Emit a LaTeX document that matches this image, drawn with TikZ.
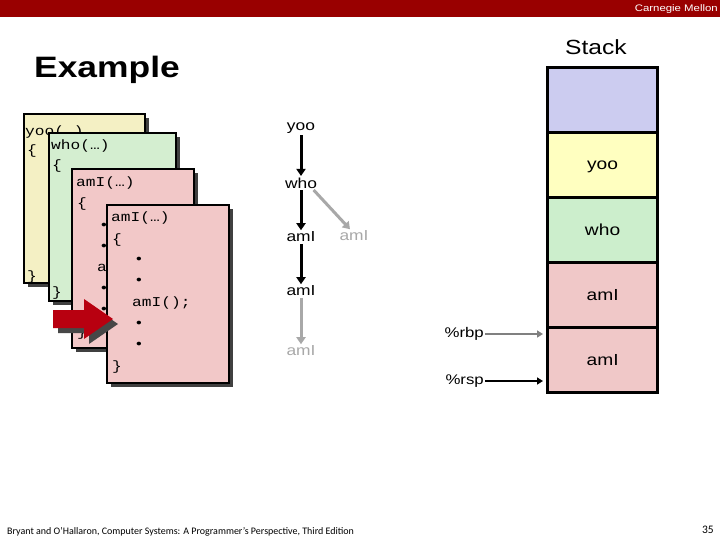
\documentclass[tikz,border=0pt]{standalone}
\usepackage{fontspec}
\setmainfont{Liberation Sans}[FakeStretch=1.2]
\newfontfamily\codefont{Liberation Mono}[FakeStretch=1.2]
\newfontfamily\footfont{Carlito}
\usetikzlibrary{arrows.meta,shadows}
\definecolor{cmured}{HTML}{990000}
\definecolor{cyoo}{HTML}{F4F0C4}
\definecolor{cwho}{HTML}{D4EED0}
\definecolor{cami}{HTML}{F2C8C8}
\definecolor{sblue}{HTML}{CCCCF0}
\definecolor{syel}{HTML}{FFFFC0}
\definecolor{sgreen}{HTML}{CCEECC}
\definecolor{spink}{HTML}{F0C8C8}
\definecolor{tgray}{HTML}{A8A8A8}
\definecolor{rgray}{HTML}{808080}
\definecolor{arrred}{HTML}{B80010}
\tikzset{
  card/.style={draw=black, line width=2.2pt, inner sep=0pt, anchor=north west,
    drop shadow={shadow xshift=4pt, shadow yshift=-4pt, fill=black!75, opacity=1}},
  code/.style={anchor=west, inner sep=0pt, font=\codefont\fontsize{13.5}{16}\selectfont},
  tree/.style={inner sep=1.5pt, font=\fontsize{14.5}{17}\selectfont},
  treegray/.style={tree, text=tgray},
  tarrow/.style={line width=3pt, -{Triangle[length=7pt,width=9pt]}},
  cell/.style={draw=black, line width=3.2pt, inner sep=0pt, anchor=north west,
    minimum width=110pt, minimum height=65pt, text depth=-3pt, font=\fontsize{16}{19}\selectfont},
  reg/.style={anchor=east, inner sep=1pt, font=\fontsize{14}{17}\selectfont},
  regarrow/.style={line width=2.8pt, -{Triangle[length=6pt,width=7pt]}, shorten >=3pt},
}
\begin{document}
\begin{tikzpicture}[x=1pt,y=-1pt]
\useasboundingbox (0,0) rectangle (720,540);
\fill[white] (0,0) rectangle (720,540);
\fill[cmured] (0,0) rectangle (720,17);
\node[anchor=east, text=white, inner sep=0pt, font=\fontsize{9.5}{11}\selectfont] (cmu) at (718,9) {Carnegie Mellon};
\node[anchor=base west, inner sep=0pt, font=\bfseries\fontsize{29.5}{34}\selectfont] (title) at (34,78) {Example};

% code cards
\node[card, fill=cyoo, minimum width=121pt, minimum height=169pt] (kyoo) at (23,113) {};
\node[code] (y1) at (25,132) {yoo(…)};
\node[code] (y2) at (27,151) {\{};
\node[code] (y3) at (27,277) {\}};

\node[card, fill=cwho, minimum width=127pt, minimum height=168pt] (kwho) at (48,132) {};
\node[code] (w1) at (51,146) {who(…)};
\node[code] (w2) at (52,166) {\{};
\node[code] (w3) at (52,293) {\}};

\node[card, fill=cami, minimum width=122pt, minimum height=179pt] (ka1) at (71,168) {};
\node[code] (a1) at (76,183) {amI(…)};
\node[code] (a2) at (77,204) {\{};
\node[code] (a3) at (99,226) {•};
\node[code] (a4) at (99,247) {•};
\node[code] (a5) at (97,268) {a};
\node[code] (a6) at (99,289) {•};
\node[code] (a7) at (99,310) {•};
\node[code] (a8) at (77,333) {\}};

\node[card, fill=cami, minimum width=122pt, minimum height=178pt] (ka2) at (106,204) {};
\node[code] (b1) at (111,218) {amI(…)};
\node[code] (b2) at (112,240) {\{};
\node[code] (b3) at (134,260) {•};
\node[code] (b4) at (134,281) {•};
\node[code] (b5) at (132,303) {amI();};
\node[code] (b6) at (134,324) {•};
\node[code] (b7) at (134,345) {•};
\node[code] (b8) at (112,367) {\}};

% red arrow with shadow
\fill[black!72] (58,315) -- (89,315) -- (89,304) -- (118,324) -- (89,344) -- (89,333) -- (58,333) -- cycle;
\fill[arrred] (53,310) -- (84,310) -- (84,299) -- (113,319) -- (84,339) -- (84,328) -- (53,328) -- cycle;

% call tree
\node[tree] (t1) at (301,128) {yoo};
\node[tree] (t2) at (301,183) {who};
\node[tree] (t3) at (301,237) {amI};
\node[treegray] (t3b) at (354,236) {amI};
\node[tree] (t4) at (301,291) {amI};
\node[treegray] (t5) at (301,351) {amI};
\draw[tarrow] (t1) -- (t2);
\draw[tarrow] (t2) -- (t3);
\draw[tarrow] (t3) -- (t4);
\draw[tarrow, tgray] ([xshift=-5pt]t2.south east) -- ([xshift=-4pt]t3b.north);
\draw[tarrow, tgray] (t4) -- (t5);

% stack
\node[anchor=base, inner sep=0pt, font=\fontsize{20.5}{24}\selectfont] (stk) at (596,55) {Stack};
\node[cell, fill=sblue] (s0) at (546,66) {};
\node[cell, fill=syel] (s1) at (546,131) {yoo};
\node[cell, fill=sgreen] (s2) at (546,196) {who};
\node[cell, fill=spink] (s3) at (546,261) {amI};
\node[cell, fill=spink] (s4) at (546,326) {amI};

\node[reg] (rbp) at (485,334) {\%rbp};
\node[reg] (rsp) at (485,381) {\%rsp};
\draw[regarrow, rgray] (rbp.east) -- (rbp.east -| s4.west);
\draw[regarrow, black] (rsp.east) -- (rsp.east -| s4.west);

% footer
\node[anchor=base west, inner sep=0pt, font=\footfont\fontsize{10}{12}\selectfont] (foot) at (7,534) {Bryant and O’Hallaron, Computer Systems: A Programmer’s Perspective, Third Edition};
\node[anchor=base east, inner sep=0pt, font=\footfont\fontsize{11.5}{13}\selectfont] (pg) at (714,533) {35};
\end{tikzpicture}
\end{document}
